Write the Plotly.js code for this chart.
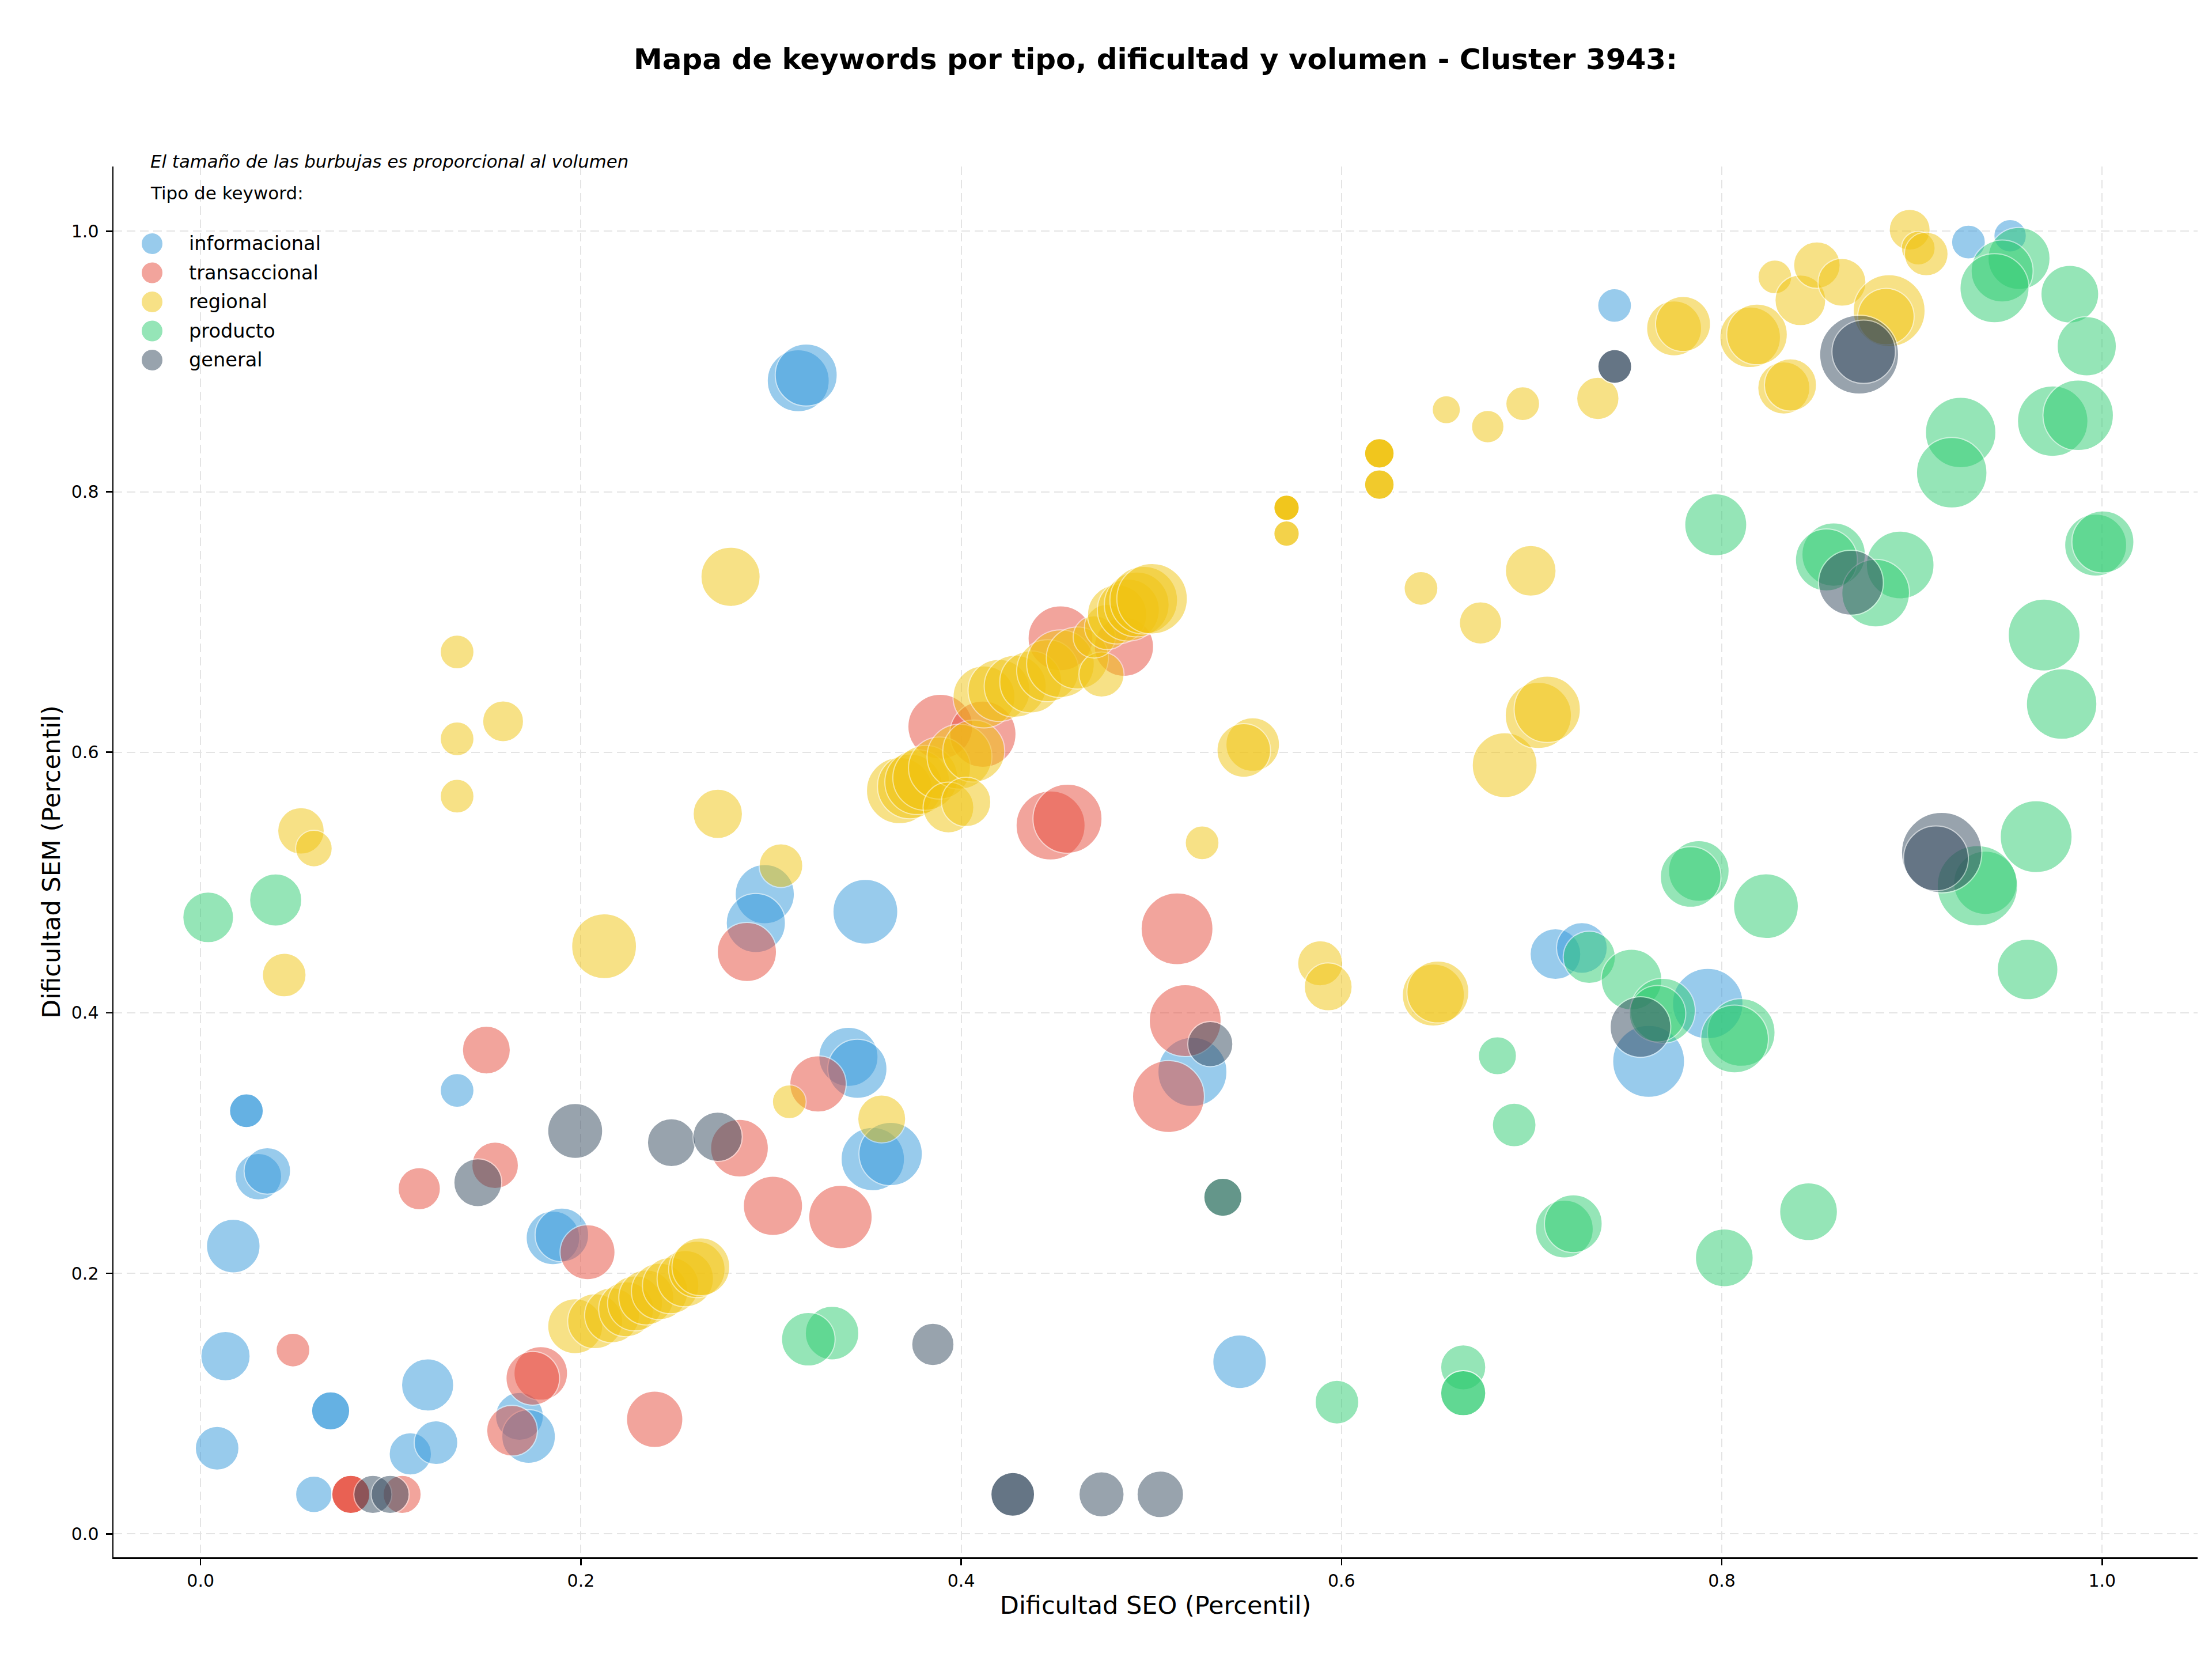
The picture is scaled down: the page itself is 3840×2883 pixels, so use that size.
<!DOCTYPE html>
<html>
<head>
<meta charset="utf-8">
<script src="https://cdn.plot.ly/plotly-3.0.1.min.js"></script>
<style>
html,body{margin:0;padding:0;background:#ffffff;}
#chart{width:3840px;height:2883px;}
</style>
</head>
<body>
<div id="chart"></div>
<script>
// ---------------- DATA ----------------
const categorias = ['informacional', 'transaccional', 'regional', 'producto', 'general'];
const colores = ['#3498db', '#e74c3c', '#f1c40f', '#2ecc71', '#34495e'];

const xTickVals = [0, 0.2, 0.4, 0.6, 0.8, 1.0];
const xTickText = ['0.0', '0.2', '0.4', '0.6', '0.8', '1.0'];
const yTickVals = [0, 0.2, 0.4, 0.6, 0.8, 1.0];
const yTickText = ['0.0', '0.2', '0.4', '0.6', '0.8', '1.0'];

// informacional
const info_seo = [0.3143,0.3185,0.7436,0.9297,0.9516,0.2967,0.2920,0.3496,0.3407,0.3454,0.3535,0.3629,0.5216,0.7125,0.7264,0.7926,0.7615,0.5464,0.1349,0.0241,0.0241,0.0304,0.0351,0.0172,0.0131,0.0087,0.0596,0.0684,0.0684,0.1194,0.1103,0.1238,0.1853,0.1900,0.1677,0.1725];
const info_sem = [0.8852,0.8896,0.9430,0.9917,0.9965,0.4911,0.4689,0.4776,0.3662,0.3570,0.2877,0.2916,0.3546,0.4451,0.4498,0.4071,0.3627,0.1321,0.3404,0.3248,0.3248,0.2742,0.2786,0.2209,0.1364,0.0657,0.0303,0.0944,0.0944,0.1143,0.0614,0.0700,0.2272,0.2295,0.0902,0.0747];
const info_vol = [3870,3870,1150,1150,1060,3530,3530,4230,3530,3530,4050,4050,4800,2590,2590,5000,5200,2890,1150,1150,1150,2180,2180,2890,2450,1920,1350,1460,1460,2740,1800,1920,2890,2890,2310,2890];

// transaccional
const trans_seo = [0.1150,0.1549,0.0486,0.2035,0.2834,0.3010,0.2388,0.1789,0.1747,0.3365,0.3247,0.1503,0.2873,0.3890,0.4114,0.4522,0.4856,0.4470,0.4559,0.5135,0.5178,0.5090,0.1638,0.0790,0.0790,0.0790,0.1060];
const trans_sem = [0.2650,0.2829,0.1411,0.2162,0.2961,0.2518,0.0879,0.1232,0.1194,0.2432,0.3454,0.3714,0.4467,0.6197,0.6139,0.6875,0.6810,0.5438,0.5490,0.4645,0.3940,0.3357,0.0792,0.0303,0.0303,0.0303,0.0303];
const trans_vol = [1800,2180,1150,3040,3360,3530,3200,2890,2890,4050,3200,2310,3530,4230,4420,4230,3530,4800,4800,5200,5200,5200,2590,1460,1460,1460,1460];

// regional
const reg_seo = [0.1349,0.1591,0.1349,0.1349,0.0528,0.0596,0.0440,0.2720,0.2122,0.3052,0.2787,0.3582,0.3096,
  0.1970,0.2075,0.2164,0.2238,0.2285,0.2344,0.2414,0.2472,0.2549,0.2610,0.2631,
  0.3676,0.3730,0.3769,0.3811,0.3886,0.3991,0.4066,0.3933,0.4026,
  0.4120,0.4199,0.4284,0.4366,0.4455,0.4522,0.4611,0.4738,0.4700,0.4767,0.4820,0.4879,0.4923,0.4960,0.5004,
  0.5533,0.5486,0.5267,0.5888,0.5930,0.6483,0.6507,0.6858,0.7035,0.7082,0.6418,0.6731,0.6995,
  0.5711,0.5711,0.5711,0.5711,0.5711,0.5711,0.6199,0.6199,0.6199,0.6199,0.6199,0.6199,0.6199,
  0.6551,0.6769,0.6953,0.7348,0.7749,0.7796,0.8149,0.8185,0.8326,0.8361,0.8279,0.8413,0.8500,0.8632,0.8880,0.8863,0.8988,0.9033,0.9075];
const reg_sem = [0.6770,0.6238,0.6103,0.5663,0.5397,0.5261,0.4290,0.5527,0.4511,0.5130,0.7347,0.3185,0.3317,
  0.1594,0.1632,0.1678,0.1724,0.1769,0.1815,0.1861,0.1906,0.1959,0.2030,0.2050,
  0.5706,0.5738,0.5771,0.5804,0.5879,0.5966,0.6009,0.5576,0.5619,
  0.6425,0.6475,0.6507,0.6540,0.6626,0.6680,0.6724,0.6597,0.6886,0.6962,0.7059,0.7092,0.7135,0.7168,0.7179,
  0.6060,0.6014,0.5305,0.4380,0.4199,0.4136,0.4160,0.5901,0.6283,0.6330,0.7258,0.6993,0.7393,
  0.7877,0.7877,0.7877,0.7877,0.7679,0.7679,0.8295,0.8295,0.8295,0.8295,0.8055,0.8055,0.8055,
  0.8630,0.8500,0.8676,0.8717,0.9254,0.9288,0.9186,0.9208,0.8797,0.8820,0.9649,0.9470,0.9740,0.9608,0.9390,0.9345,1.0012,0.9870,0.9825];
const reg_vol = [1150,1680,1150,1150,2180,1350,1920,2450,4230,1920,3530,2310,1150,
  3040,3040,3040,3040,3040,3040,3200,3200,3200,3200,3360,
  4420,4230,4230,4230,3870,4230,3870,2590,2450,
  3870,3870,3870,3870,3870,4610,3870,2050,1800,2050,3530,3870,4230,4610,5000,
  2890,2890,1150,2050,2310,3870,3870,4230,4420,4420,1150,1800,2590,
  650,650,650,650,650,650,880,880,880,880,880,880,880,
  800,1060,1150,1800,3040,3040,3700,3700,2740,2740,1150,2590,2180,2310,5200,3200,1680,1150,1920];

// producto
const prod_seo = [0.0040,0.0395,0.3321,0.3196,0.5976,0.6640,0.6640,0.6640,0.6908,0.7172,0.7219,0.8013,0.8456,0.9695,0.9787,0.9653,0.9386,0.9344,0.9608,0.7879,0.7836,0.8232,0.7303,0.7525,0.7690,0.7662,0.8102,0.8067,0.6820,0.9563,0.9474,0.9434,0.9830,0.9919,0.9256,0.9209,0.9740,0.9874,0.7968,0.8588,0.8550,0.8938,0.8809,0.9966,1.0004,0.5376];
const prod_sem = [0.4733,0.4866,0.1541,0.1494,0.1011,0.1278,0.1080,0.1080,0.3139,0.2340,0.2381,0.2119,0.2473,0.6900,0.6370,0.5352,0.4998,0.4975,0.4333,0.5089,0.5043,0.4819,0.4426,0.4255,0.4016,0.3993,0.3849,0.3799,0.3670,0.9791,0.9695,0.9563,0.9517,0.9117,0.8455,0.8146,0.8542,0.8587,0.7747,0.7518,0.7477,0.7438,0.7222,0.7591,0.7615,0.2584];
const prod_vol = [2590,2740,2890,2890,1920,2050,2050,2050,1920,3360,3360,3360,3360,5200,5000,5200,4050,6500,3700,3700,3700,4230,2740,3700,4230,3200,4610,4610,1460,3870,3870,4800,3360,3530,5000,5000,5000,5000,3870,4050,3870,4610,4610,3870,3870,1460];

// general
const gen_seo = [0.1970,0.1458,0.2476,0.2719,0.3851,0.4271,0.4271,0.4738,0.5047,0.5376,0.5310,0.7437,0.7437,0.8722,0.8746,0.8679,0.9156,0.9126,0.7572,0.0906,0.0997];
const gen_sem = [0.3093,0.2696,0.3003,0.3048,0.1454,0.0303,0.0303,0.0303,0.0303,0.2584,0.3760,0.8962,0.8962,0.9053,0.9075,0.7302,0.5230,0.5186,0.3891,0.0303,0.0303];
const gen_vol = [3040,2310,2310,2450,1800,1920,1920,2050,2180,1460,2050,1150,1150,6270,4050,4230,6500,4230,3700,1460,1460];

// ---------------- CHART ----------------
const seriesData = [
  {seo: info_seo, sem: info_sem, vol: info_vol},
  {seo: trans_seo, sem: trans_sem, vol: trans_vol},
  {seo: reg_seo, sem: reg_sem, vol: reg_vol},
  {seo: prod_seo, sem: prod_sem, vol: prod_vol},
  {seo: gen_seo, sem: gen_sem, vol: gen_vol}
];

const FONT = 'DejaVu Sans';
const traces = seriesData.map((s, i) => ({
  type: 'scatter',
  mode: 'markers',
  name: categorias[i],
  x: s.seo,
  y: s.sem,
  showlegend: false,
  hoverinfo: 'skip',
  marker: {
    size: s.vol,
    sizemode: 'area',
    sizeref: 0.6669,
    color: colores[i],
    opacity: 0.5,
    line: {color: '#ffffff', width: 2}
  }
}));

// custom legend (large markers like the reference)
const legX = 0.01852, legTextX = 0.0357, legY0 = 0.9445, legStep = 0.02092;
const rx = 19 / 3618, ry = 19 / 2414;
const shapes = categorias.map((c, i) => ({
  type: 'circle', xref: 'paper', yref: 'paper',
  x0: legX - rx, x1: legX + rx,
  y0: legY0 - i * legStep - ry, y1: legY0 - i * legStep + ry,
  fillcolor: colores[i], opacity: 0.5,
  line: {color: '#ffffff', width: 2}
}));
const annotations = categorias.map((c, i) => ({
  xref: 'paper', yref: 'paper', x: legTextX, y: legY0 - i * legStep,
  xanchor: 'left', yanchor: 'middle', showarrow: false,
  text: c, font: {family: FONT, size: 33.6, color: '#000000'}
}));
annotations.push({
  xref: 'paper', yref: 'paper', x: 0.0172, y: 1.0037,
  xanchor: 'left', yanchor: 'middle', showarrow: false,
  text: '<i>El tamaño de las burbujas es proporcional al volumen</i>',
  font: {family: FONT, size: 30.8, color: '#000000'}
});
annotations.push({
  xref: 'paper', yref: 'paper', x: 0.0172, y: 0.981,
  xanchor: 'left', yanchor: 'middle', showarrow: false,
  text: 'Tipo de keyword:',
  font: {family: FONT, size: 31, color: '#000000'}
});

const axisCommon = {
  showline: true, linecolor: '#000000', linewidth: 2.5,
  ticks: 'outside', ticklen: 11, tickwidth: 2.5, tickcolor: '#000000',
  tickfont: {family: FONT, size: 30, color: '#000000'},
  showgrid: true, gridcolor: '#e4e4e4', gridwidth: 2, griddash: '15px,8px',
  zeroline: false, mirror: false, automargin: false
};

const layout = {
  width: 3840, height: 2883,
  margin: {l: 197, r: 25, t: 289, b: 180, pad: 0},
  paper_bgcolor: '#ffffff', plot_bgcolor: '#ffffff',
  font: {family: FONT, color: '#000000'},
  title: {
    text: 'Mapa de keywords por tipo, dificultad y volumen - Cluster 3943:',
    font: {family: FONT, size: 50, weight: 'bold', color: '#000000'},
    x: 0.5, xref: 'paper', xanchor: 'center',
    y: 0.9643, yref: 'container', yanchor: 'middle'
  },
  xaxis: Object.assign({}, axisCommon, {
    range: [-0.0458, 1.0502],
    tickvals: xTickVals, ticktext: xTickText,
    ticklabelstandoff: 1,
    title: {text: 'Dificultad SEO (Percentil)', font: {family: FONT, size: 43, color: '#000000'}, standoff: 12}
  }),
  yaxis: Object.assign({}, axisCommon, {
    range: [-0.018, 1.0497],
    tickvals: yTickVals, ticktext: yTickText,
    ticklabelstandoff: 6,
    title: {text: 'Dificultad SEM (Percentil)', font: {family: FONT, size: 43, color: '#000000'}, standoff: 6}
  }),
  shapes: shapes,
  annotations: annotations
};

Plotly.newPlot('chart', traces, layout, {staticPlot: true, displayModeBar: false});
</script>
</body>
</html>
